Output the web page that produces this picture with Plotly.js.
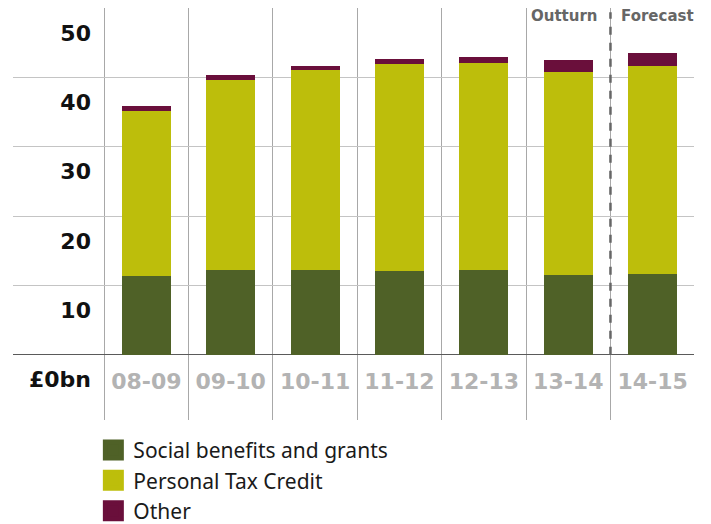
<!DOCTYPE html>
<html><head><meta charset="utf-8">
<script src="https://cdn.plot.ly/plotly-3.0.1.min.js"></script>
<style>html,body{margin:0;padding:0;background:#fff}</style>
</head><body><div id="chart" style="width:711px;height:524px"></div>
<script>
const years = ['08-09','09-10','10-11','11-12','12-13','13-14','14-15'];
const socialBenefits = [11.3,12.2,12.2,12.1,12.2,11.5,11.6];
const personalTaxCredit = [23.9,27.4,28.8,29.8,29.9,29.3,30.0];
const other = [0.7,0.7,0.6,0.7,0.85,1.7,1.9];
const seriesNames = ['Social benefits and grants','Personal Tax Credit','Other'];
const seriesColors = ['#4f6127','#bdbe0b','#6a0f3b'];
const yTickVals = [0,10,20,30,40,50];
const yTickText = ['£0bn','10','20','30','40','50'];
const gridVals = [10,20,30,40];
const periodLabels = ['Outturn','Forecast'];
const forecastStart = 5.5;

const seriesValues = [socialBenefits, personalTaxCredit, other];
const data = [];
seriesValues.forEach((vals, i) => {
  data.push({type:'bar', x: years, y: vals, name: seriesNames[i],
    marker:{color: seriesColors[i]}, showlegend:false, hoverinfo:'skip'});
});
seriesNames.forEach((n, i) => {
  data.push({type:'scatter', mode:'markers', x:[null], y:[null], yaxis:'y2', name:n,
    marker:{symbol:'square', size:16, color:seriesColors[i], line:{color:seriesColors[i], width:5}},
    hoverinfo:'skip'});
});

const bold = {family:'DejaVu Sans', weight:700};
const layout = {
  width:711, height:524,
  margin:{l:13, r:17, t:8, b:104, autoexpand:false},
  paper_bgcolor:'#fff', plot_bgcolor:'#fff',
  barmode:'stack', bargap:0.42,
  showlegend:true,
  legend:{orientation:'v', x:0.118, xanchor:'left', y:-0.024, yanchor:'top',
    traceorder:'normal', font:{family:'Noto Sans', size:21, color:'#1a1a1a'},
    bgcolor:'rgba(0,0,0,0)'},
  xaxis:{type:'category', range:[-1.58, 6.49], tickson:'boundaries',
    showgrid:true, gridcolor:'#a8a8a8', gridwidth:1, ticks:'', showline:false, zeroline:false,
    anchor:'free', position:0.131,
    tickfont:Object.assign({size:22, color:'#b3b3b3'}, bold)},
  yaxis:{range:[-9.42, 50], tickmode:'array', tickvals:gridVals, showticklabels:false,
    showgrid:true, gridcolor:'#c4c4c4', gridwidth:1, zeroline:true, zerolinecolor:'#5a5a5a', zerolinewidth:1.3,
    ticks:'', showline:false},
  yaxis2:{overlaying:'y', anchor:'free', position:0.1145, side:'left',
    range:[-9.42, 50], tickmode:'array', tickvals:yTickVals, ticktext:yTickText,
    showgrid:false, zeroline:false, showline:false, ticks:'', ticklabelshift:25,
    tickfont:Object.assign({size:22, color:'#111'}, bold)},
  shapes:[{type:'line', xref:'x', yref:'y', x0:forecastStart, x1:forecastStart, y0:0, y1:49.4,
    line:{color:'#666', width:2.5, dash:'8px,8px'}}],
  annotations:[
    {xref:'x', yref:'paper', x:forecastStart, y:1, xanchor:'right', yanchor:'middle', xshift:-10, yshift:-8,
      text:periodLabels[0], showarrow:false, font:Object.assign({size:15, color:'#666'}, bold)},
    {xref:'x', yref:'paper', x:forecastStart, y:1, xanchor:'left', yanchor:'middle', xshift:9, yshift:-8,
      text:periodLabels[1], showarrow:false, font:Object.assign({size:15, color:'#666'}, bold)}
  ]
};
Plotly.newPlot('chart', data, layout, {staticPlot:true, displayModeBar:false});
</script></body></html>
